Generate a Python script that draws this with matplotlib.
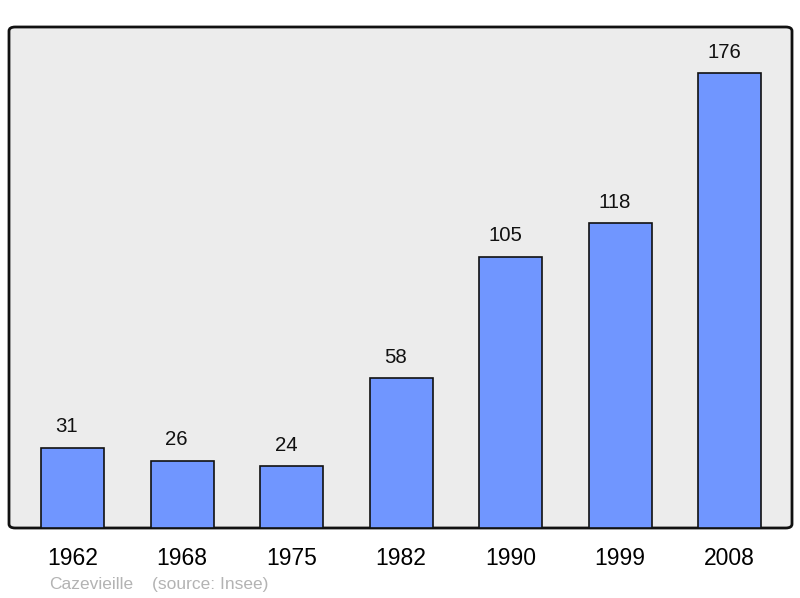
import matplotlib
matplotlib.use("Agg")
import matplotlib.pyplot as plt
from matplotlib.patches import FancyBboxPatch

years = ["1962", "1968", "1975", "1982", "1990", "1999", "2008"]
population = [31, 26, 24, 58, 105, 118, 176]

plt.rcParams['font.family'] = ['Liberation Sans', 'DejaVu Sans']

fig = plt.figure(figsize=(8.0, 5.98), dpi=100)
ax = fig.add_axes([9/800, 70/598, 783/800, 501/598])
ax.set_xlim(-0.58, 6.57)
ax.set_ylim(0, 193.8)
ax.set_facecolor('none')
for s in ax.spines.values():
    s.set_visible(False)

bg = FancyBboxPatch((0, 0), 1, 1, boxstyle="round,pad=0,rounding_size=0.008",
                    transform=ax.transAxes, facecolor='#ececec', edgecolor='#111111',
                    linewidth=2, zorder=0, clip_on=False)
ax.add_patch(bg)

x = list(range(len(years)))
ax.bar(x, population, width=0.575, color='#7096ff', edgecolor='#111111',
       linewidth=1.2, zorder=2)
for xi, v in zip(x, population):
    ax.annotate(str(v), (xi, v), xytext=(-4, 8.2), textcoords='offset points',
                ha='center', va='bottom', fontsize=14.7, color='#111111')

ax.set_xticks(x)
ax.set_xticklabels(years, fontsize=16.5)
ax.tick_params(axis='x', length=0, pad=13.5)
ax.set_yticks([])

fig.text(49/800, 1 - 589/598, "Cazevieille", fontsize=12.5, color='#b3b3b3', va='baseline')
fig.text(152/800, 1 - 589/598, "(source: Insee)", fontsize=12.5, color='#b3b3b3', va='baseline')

fig.savefig("out.png", dpi=100)
